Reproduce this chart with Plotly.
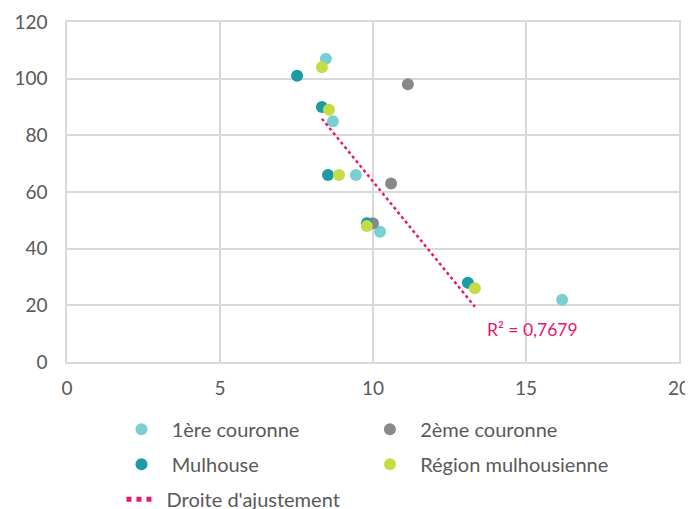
import numpy as np
import plotly.graph_objects as go

# values
couronne1_x = [8.46, 8.69, 9.44, 10.23, 16.18]
couronne1_y = [107, 85, 66, 46, 22]

couronne2_x = [11.14, 10.59, 10.0]
couronne2_y = [98, 63, 49]

mulhouse_x = [7.52, 8.33, 8.53, 9.80, 13.10]
mulhouse_y = [101, 90, 66, 49, 28]

region_x = [8.33, 8.56, 8.89, 9.80, 13.33]
region_y = [104, 89, 66, 48, 26]

r2_label = "R² = 0,7679"

PAD = "\u00a0\u00a0"

# name, x, y, colour, which legend column
series = [
    ("1ère couronne", couronne1_x, couronne1_y, "#7ACFD3", "legend"),
    ("2ème couronne", couronne2_x, couronne2_y, "#87898C", "legend2"),
    ("Mulhouse", mulhouse_x, mulhouse_y, "#1B9BA6", "legend"),
    ("Région mulhousienne", region_x, region_y, "#C7DB45", "legend2"),
]

fig = go.Figure()

for name, xs, ys, color, leg in series:
    fig.add_trace(
        go.Scatter(
            x=xs,
            y=ys,
            mode="markers",
            name=PAD + name,
            legend=leg,
            legendgroup=name,
            marker={"color": color, "size": 12, "line": {"width": 0}},
        )
    )

# linear fit on the Région mulhousienne series
slope, intercept = np.polyfit(region_x, region_y, 1)
fit_x = [min(region_x), max(region_x)]
fit_y = [slope * v + intercept for v in fit_x]

fig.add_trace(
    go.Scatter(
        x=fit_x,
        y=fit_y,
        mode="lines",
        name="\u00a0Droite d'ajustement",
        legend="legend",
        legendgroup="fit",
        line={"color": "#E8176F", "width": 2.5, "dash": "dot"},
    )
)

fig.add_annotation(
    x=max(region_x),
    y=min(fit_y),
    text=r2_label,
    showarrow=False,
    xanchor="left",
    yanchor="middle",
    xshift=10,
    yshift=-23,
    font={"color": "#E8176F", "size": 17.5, "family": "Lato"},
)

axis_style = {
    "showgrid": True,
    "gridcolor": "#D9D9D9",
    "gridwidth": 1.5,
    "zeroline": False,
    "showline": True,
    "linecolor": "#D9D9D9",
    "linewidth": 1.5,
    "mirror": True,
    "ticks": "outside",
    "tickcolor": "rgba(0,0,0,0)",
    "automargin": False,
    "tickfont": {"size": 19, "color": "#595959", "family": "Lato"},
}

fig.update_xaxes(range=[0, 20], dtick=5, ticklen=8, ticklabeloverflow="allow", **axis_style)
fig.update_yaxes(range=[0, 120], dtick=20, ticklen=14, **axis_style)

legend_style = {
    "orientation": "v",
    "xanchor": "left",
    "yanchor": "top",
    "xref": "paper",
    "yref": "container",
    "y": 0.198,
    "tracegroupgap": 6,
    "itemsizing": "constant",
    "font": {"size": 20, "color": "#595959", "family": "Lato"},
    "bgcolor": "rgba(0,0,0,0)",
}

# page body adds an 8px margin; keep the plot area where the reference has it
fig.update_layout(
    width=700,
    height=501,
    margin={"l": 59, "r": 29, "t": 14, "b": 147},
    paper_bgcolor="white",
    plot_bgcolor="white",
    font={"family": "Lato", "color": "#595959"},
    legend={**legend_style, "x": 0.089},
    legend2={**legend_style, "x": 0.495},
)

fig.write_html("out.html")
